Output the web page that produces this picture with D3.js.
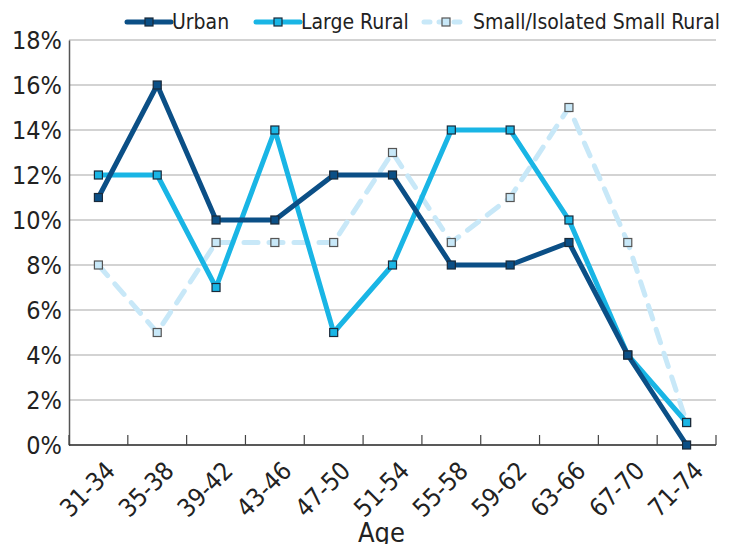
<html>
<head>
<meta charset="UTF-8">
<script src="https://cdn.jsdelivr.net/npm/d3@7"></script>
<style>
  body { margin:0; background:#fff; }
  text { font-family: "DejaVu Sans Condensed", "Liberation Sans Narrow", "Open Sans", sans-serif; fill:#222; }
</style>
</head>
<body>
<svg width="740" height="544"></svg>
<script>
    // data
    var ages = ["31-34","35-38","39-42","43-46","47-50","51-54","55-58","59-62","63-66","67-70","71-74"];
    var urban = [11,16,10,10,12,12,8,8,9,4,0];
    var largeRural = [12,12,7,14,5,8,14,14,10,4,1];
    var smallRural = [8,5,9,9,9,13,9,11,15,9,1];
    var yTicks = [0,2,4,6,8,10,12,14,16,18];

    var series = [
        {name:"Urban", values:urban, color:"#0b4f86", fill:"#0b4f86", stroke:"#1a2a3a", dash:null},
        {name:"Large Rural", values:largeRural, color:"#19b5e5", fill:"#19b5e5", stroke:"#1a2a3a", dash:null},
        {name:"Small/Isolated Small Rural", values:smallRural, color:"#c8e8f8", fill:"#c8e8f8", stroke:"#555", dash:"14,11"}
    ];

    var marge = {top:40, left:69};
    var svg = d3.select("svg");
    var g = svg.append("g").attr("transform","translate("+marge.left+","+marge.top+")");
    var w = 716-marge.left;   // plot right edge at 716
    var h = 445-marge.top;    // x axis at 445

    var xScale = d3.scaleBand().domain(ages).range([0,w]);
    var yScale = d3.scaleLinear().domain([0,18]).range([h,0]);

    // gridlines
    g.selectAll(".grid").data(yTicks.slice(1)).enter().append("line")
        .attr("x1",0).attr("x2",w)
        .attr("y1",function(d){return yScale(d);})
        .attr("y2",function(d){return yScale(d);})
        .attr("stroke","#c4c4c4").attr("stroke-width",1.5);

    // y axis
    var yAxis = d3.axisLeft(yScale).tickValues(yTicks).tickSize(0).tickPadding(7)
        .tickFormat(function(d){return d+"%";});
    var gy = g.append("g").call(yAxis);
    gy.select(".domain").attr("stroke","#555").attr("stroke-width",1.5);
    gy.selectAll("text").style("font-size","25px").attr("fill","#222");

    // x axis, ticks at band edges
    g.append("line").attr("x1",0).attr("x2",w).attr("y1",h).attr("y2",h)
        .attr("stroke","#222").attr("stroke-width",1.5);
    g.selectAll(".xt").data(d3.range(ages.length+1)).enter().append("line")
        .attr("x1",function(i){return i*xScale.step();})
        .attr("x2",function(i){return i*xScale.step();})
        .attr("y1",h).attr("y2",h-10)
        .attr("stroke","#444").attr("stroke-width",1.2);

    g.selectAll(".xl").data(ages).enter().append("text")
        .attr("transform",function(d){
            return "translate("+(xScale(d)+xScale.bandwidth()/2+5)+","+(h+14)+") rotate(-45)";
        })
        .attr("text-anchor","end")
        .attr("dy","0.75em")
        .style("font-size","25px")
        .text(function(d){return d;});

    g.append("text").attr("x",w/2-11).attr("y",h+97)
        .attr("text-anchor","middle").style("font-size","27px").text("Age");

    // lines
    var line = d3.line()
        .x(function(d,i){return xScale(ages[i])+xScale.bandwidth()/2;})
        .y(function(d){return yScale(d);});

    // draw small rural first so others sit on top
    var order = [series[2],series[1],series[0]];
    order.forEach(function(s){
        g.append("path").datum(s.values)
            .attr("d",line)
            .attr("fill","none")
            .attr("stroke",s.color)
            .attr("stroke-width",5)
            .attr("stroke-linecap",s.dash?"round":"butt")
            .attr("stroke-linejoin","round")
            .attr("stroke-dasharray",s.dash);
    });
    order.forEach(function(s){
        g.selectAll(null).data(s.values).enter().append("rect")
            .attr("x",function(d,i){return xScale(ages[i])+xScale.bandwidth()/2-4;})
            .attr("y",function(d){return yScale(d)-4;})
            .attr("width",8).attr("height",8)
            .attr("fill",s.fill).attr("stroke",s.stroke).attr("stroke-width",1.2);
    });

    // legend
    var legX = [127,256,424];
    var lg = svg.selectAll(".leg").data(series).enter().append("g")
        .attr("transform",function(d,i){return "translate("+legX[i]+",22)";});
    lg.append("line").attr("x1",0).attr("x2",44).attr("y1",0).attr("y2",0)
        .attr("stroke",function(d){return d.color;})
        .attr("stroke-width",5)
        .attr("stroke-linecap","round")
        .attr("stroke-dasharray",function(d){return d.dash?"6,9":null;});
    lg.append("rect").attr("x",18).attr("y",-4).attr("width",8).attr("height",8)
        .attr("fill",function(d){return d.fill;})
        .attr("stroke",function(d){return d.stroke;}).attr("stroke-width",1.2);
    lg.append("text").attr("x",function(d){return d.dash?49:45;}).attr("y",0).attr("dy","0.35em")
        .style("font-size","21px").text(function(d){return d.name;});
</script>
</body>
</html>
